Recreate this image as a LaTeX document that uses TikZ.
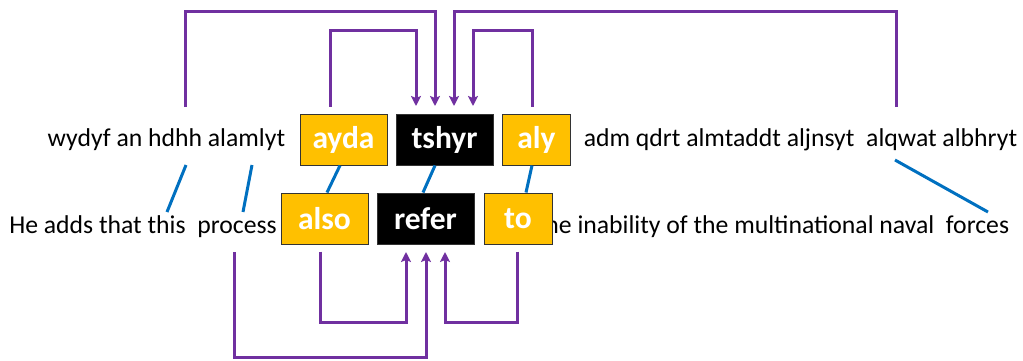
\documentclass[tikz,border=0pt]{standalone}
\usepackage{fontspec}
\setmainfont{Carlito}
\usetikzlibrary{arrows.meta}
\definecolor{lnk}{HTML}{7030A0}
\definecolor{aln}{HTML}{0070C0}
\definecolor{ybox}{HTML}{FFC000}
\tikzset{
  x=1pt,y=-1pt,
  plain/.style={inner sep=0pt,font=\fontsize{25.7}{28}\selectfont,anchor=center},
  wbox/.style={draw=black!80,line width=1pt,minimum height=51pt,inner sep=0pt,font=\fontsize{31.5}{34}\selectfont\bfseries,text=white},
  ywbox/.style={wbox,fill=ybox},
  kwbox/.style={wbox,fill=black},
  dep/.style={draw=lnk,line width=3pt,-{Stealth[length=10pt,width=10pt,inset=2pt]}},
  al/.style={draw=aln,line width=3pt},
}
\begin{document}
\begin{tikzpicture}
\useasboundingbox (0,0) rectangle (1023,360);
% texts
\node[plain] (ar1) at (166.5,140) {wydyf an hdhh alamlyt};
\node[plain] (ar2) at (800.5,140) {adm qdrt almtaddt aljnsyt\ \ alqwat albhryt};
\node[plain] (en1) at (143,227) {He adds that this\ \ process};
\node[plain] (en2) at (773,227) {the inability of the multinational naval\ \ forces};
% boxes
\node[ywbox,minimum width=87pt] (ayda) at (343.5,139.5) {ayda};
\node[kwbox,minimum width=97pt] (tshyr) at (444.5,139.5) {tshyr};
\node[ywbox,minimum width=68pt] (aly) at (536.5,139.5) {aly};
\node[ywbox,minimum width=87pt] (also) at (324.5,218.5) {also};
\node[kwbox,minimum width=97pt] (refer) at (425.5,218.5) {refer};
\node[ywbox,minimum width=68pt] (to) at (518,218.5) {to};
% free ends
\coordinate (s1) at (185,107);
\coordinate (s4) at (896,107);
\coordinate (s5) at (234,252);
\coordinate (a1) at (186,165);
\coordinate (b1) at (167,212);
\coordinate (a2) at (252,165);
\coordinate (b2) at (243,212);
\coordinate (a3) at (895,160);
\coordinate (b3) at (988,212);
% top arcs
\draw[dep] (s1) -- (185,11) -- (435,11) -- (435,106);
\draw[dep] (ayda.north -| 330,0) ++(0,-7) -- (330,30) -- (416,30) -- (416,106);
\draw[dep] (aly.north -| 532,0) ++(0,-7) -- (532,30) -- (473,30) -- (473,106);
\draw[dep] (s4) -- (896,11) -- (454,11) -- (454,106);
% bottom arcs
\draw[dep] (s5) -- (234,357) -- (426,357) -- (426,252);
\draw[dep] (also.south -| 320,0) ++(0,7) -- (320,322) -- (406,322) -- (406,252);
\draw[dep] (to.south -| 517,0) ++(0,7) -- (517,322) -- (445,322) -- (445,252);
% alignment lines
\draw[al] (a1) -- (b1);
\draw[al] (a2) -- (b2);
\draw[al] (ayda.south -| 340,0) -- (also.north -| 327,0);
\draw[al] (tshyr.south -| 435,0) -- (refer.north -| 423,0);
\draw[al] (aly.south -| 532,0) -- (to.north -| 526,0);
\draw[al] (a3) -- (b3);
\end{tikzpicture}
\end{document}
